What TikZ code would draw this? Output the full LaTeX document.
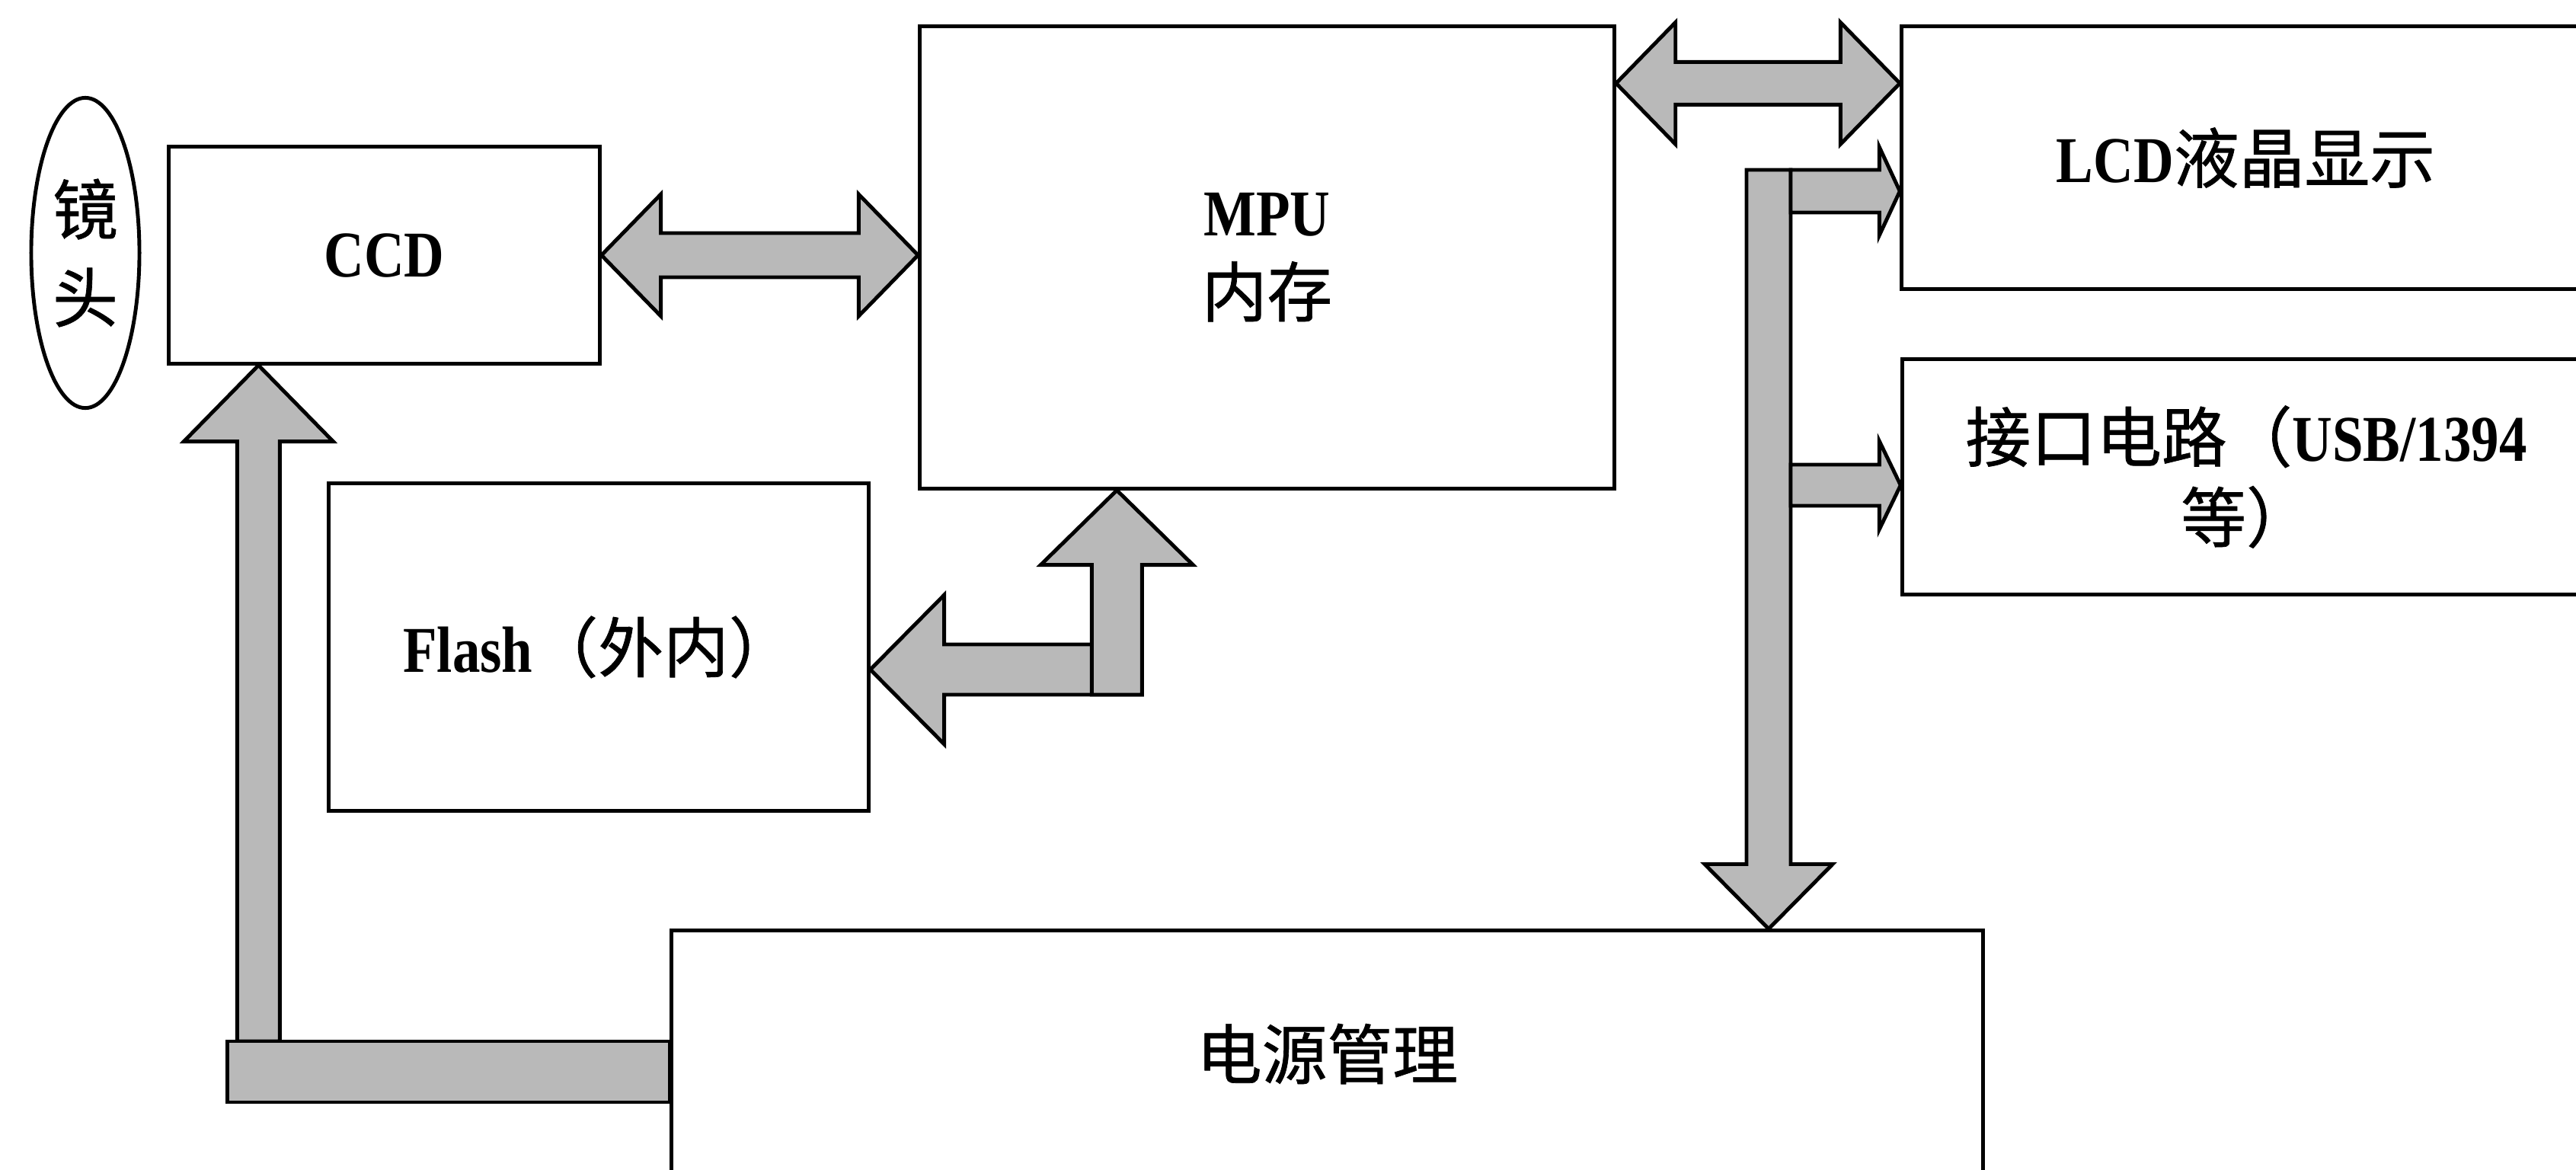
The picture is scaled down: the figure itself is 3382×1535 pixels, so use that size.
\documentclass[tikz,border=0pt]{standalone}
\usepackage{fontspec}
\setmainfont{Liberation Serif}[FakeStretch=0.85]
\newfontfamily\cjkfont{Noto Sans CJK SC}[FakeBold=0.8]
\newcommand\zh[1]{{\cjkfont\mdseries #1}}
\usetikzlibrary{shapes.geometric,calc}
\definecolor{arrgray}{RGB}{185,185,185}
\tikzset{
  box/.style={draw, line width=1.4pt, fill=white, inner sep=0pt, align=center,
    font=\bfseries\fontsize{24.4pt}{30pt}\selectfont},
  arr/.style={draw, line width=1.4pt, fill=arrgray, line join=miter},
}
\begin{document}
\begin{tikzpicture}[x=0.01cm,y=-0.01cm]
\useasboundingbox (0,0) rectangle (3382,1535);
\clip (0,0) rectangle (3382,1535);
\fill[white] (0,0) rectangle (3382,1535);

% blocks
\node[box, ellipse, minimum width=1.42cm, minimum height=4.07cm] (lens) at (112,332) {\zh{镜}\\[0.1cm]\zh{头}};
\node[box, minimum width=5.65cm, minimum height=2.84cm] (ccd) at (504.5,335) {CCD};
\node[box, minimum width=9.11cm, minimum height=6.06cm] (mpu) at (1663.5,338) {MPU\\\zh{内存}};
\node[box, minimum width=9.03cm, minimum height=3.44cm] (lcd) at (2948.5,207) {LCD\zh{液晶显示}};
\node[box, minimum width=9.02cm, minimum height=3.08cm] (port) at (2949,626) {\zh{接口电路（}USB/1394\\\zh{等）}};
\node[box, minimum width=7.08cm, minimum height=4.29cm] (flash) at (786,849.5) {Flash\zh{（外内）}};
\node[box, minimum width=17.21cm, minimum height=3.23cm] (power) at (1742.5,1383.5) {\zh{电源管理}};

% CCD <-> MPU
\path (ccd.east) coordinate (c1) (mpu.west |- ccd.east) coordinate (c2);
\draw[arr] (c1) -- ++(78,-80) -- ++(0,51) -- ($(c2)+(-78,-29)$) -- ++(0,-51) -- (c2)
  -- ++(-78,80) -- ++(0,-51) -- ($(c1)+(78,29)$) -- ++(0,51) -- cycle;

% MPU <-> LCD
\path ($(mpu.north east)+(0,77)$) coordinate (m1) (lcd.west |- m1) coordinate (m2);
\draw[arr] (m1) -- ++(78,-80) -- ++(0,52) -- ($(m2)+(-78,-28)$) -- ++(0,-52) -- (m2)
  -- ++(-78,80) -- ++(0,-52) -- ($(m1)+(78,28)$) -- ++(0,52) -- cycle;

% bus down to power
\coordinate (b1) at (2322,223);
\path (b1 |- power.north) coordinate (b2);
\draw[arr] ($(b1)+(-29,0)$) -- ($(b1)+(29,0)$) -- ($(b2)+(29,-85)$) -- ++(55,0) -- (b2)
  -- ($(b2)+(-84,-85)$) -- ++(55,0) -- cycle;

% bus -> LCD
\path ($(b1)+(29,28)$) coordinate (l1) (lcd.west |- l1) coordinate (l2);
\draw[arr] ($(l1)+(0,-28)$) -- ($(l2)+(-27,-28)$) -- ++(0,-30) -- (l2) -- ($(l2)+(-27,58)$)
  -- ++(0,-30) -- ($(l1)+(0,28)$) -- cycle;

% bus -> port
\path ($(port.west -| l1)+(0,11)$) coordinate (p1) (port.west |- p1) coordinate (p2);
\draw[arr] ($(p1)+(0,-27)$) -- ($(p2)+(-28,-27)$) -- ++(0,-31) -- (p2) -- ($(p2)+(-28,58)$)
  -- ++(0,-31) -- ($(p1)+(0,27)$) -- cycle;

% MPU -> Flash
\path ($(flash.east)+(0,29.5)$) coordinate (f1) ($(mpu.south west)+(261,0)$) coordinate (f2);
\draw[arr] (f1) -- ++(97,-98) -- ++(0,65) -- ($(f2 |- f1)+(33,-33)$) -- ++(0,66)
  -- ($(f1)+(97,33)$) -- ++(0,65) -- cycle;
\draw[arr] (f2) -- ++(100,98) -- ++(-67,0) -- ($(f2 |- f1)+(33,33)$) -- ++(-66,0)
  -- ($(f2)+(-33,98)$) -- ++(-67,0) -- cycle;

% power -> CCD
\path ($(ccd.south west)+(120,0)$) coordinate (g1) ($(power.west)+(0,23.5)$) coordinate (g2);
\draw[arr] (g1) -- ++(98,100) -- ++(-70,0) -- ($(g1 |- g2)+(28,-40)$) -- ++(-56,0)
  -- ($(g1)+(-28,100)$) -- ++(-70,0) -- cycle;
\draw[arr] ($(g1 |- g2)+(-41,-40)$) rectangle ($(g2)+(0,40)$);
\end{tikzpicture}
\end{document}
